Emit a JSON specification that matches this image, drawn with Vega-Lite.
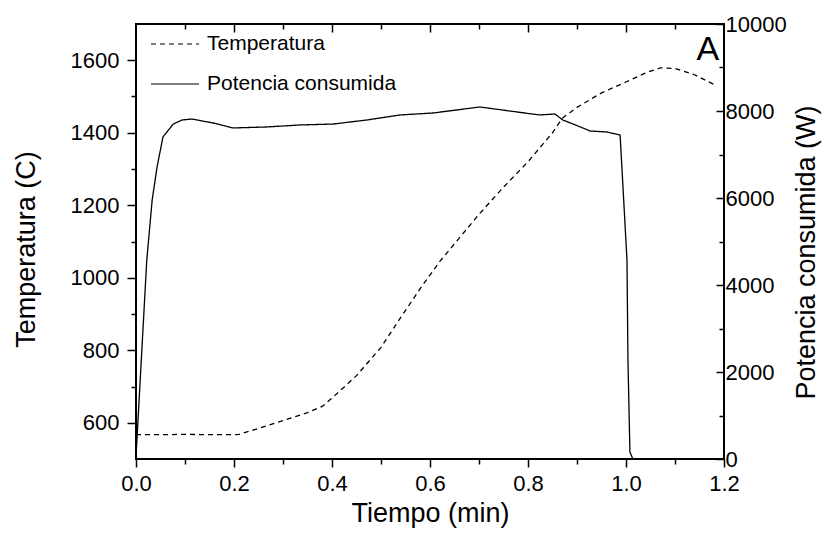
{
  "$schema": "https://vega.github.io/schema/vega-lite/v6.json",
  "width": 588,
  "height": 435,
  "autosize": {"type": "none"},
  "padding": {"left": 136, "top": 24, "right": 102, "bottom": 78},
  "background": "white",
  "config": {
    "view": {"stroke": "black", "strokeWidth": 2},
    "font": "Liberation Sans",
    "axis": {
      "domain": false,
      "grid": false,
      "tickColor": "black",
      "tickWidth": 1.5,
      "labelColor": "black",
      "titleColor": "black",
      "labelFont": "Liberation Sans",
      "titleFont": "Liberation Sans",
      "labelFontSize": 22,
      "titleFontSize": 27,
      "titleFontWeight": "normal"
    }
  },
  "datasets": {
    "temp": [
      {"t": 0.0, "temp": 567}, {"t": 0.05, "temp": 567}, {"t": 0.1, "temp": 568}, {"t": 0.15, "temp": 567},
      {"t": 0.2, "temp": 567}, {"t": 0.21, "temp": 568}, {"t": 0.25, "temp": 584}, {"t": 0.3, "temp": 606},
      {"t": 0.35, "temp": 628}, {"t": 0.38, "temp": 645}, {"t": 0.4, "temp": 668}, {"t": 0.45, "temp": 730},
      {"t": 0.5, "temp": 808}, {"t": 0.54, "temp": 890}, {"t": 0.58, "temp": 970}, {"t": 0.62, "temp": 1045},
      {"t": 0.66, "temp": 1110}, {"t": 0.7, "temp": 1175}, {"t": 0.75, "temp": 1250}, {"t": 0.8, "temp": 1320},
      {"t": 0.85, "temp": 1400}, {"t": 0.87, "temp": 1440}, {"t": 0.9, "temp": 1470}, {"t": 0.95, "temp": 1510},
      {"t": 1.0, "temp": 1540}, {"t": 1.04, "temp": 1565}, {"t": 1.07, "temp": 1579}, {"t": 1.1, "temp": 1577},
      {"t": 1.14, "temp": 1560}, {"t": 1.18, "temp": 1533}
    ],
    "power": [
      {"t": 0.0, "power": 50}, {"t": 0.022, "power": 4575}, {"t": 0.033, "power": 5954}, {"t": 0.043, "power": 6713},
      {"t": 0.055, "power": 7403}, {"t": 0.076, "power": 7700}, {"t": 0.094, "power": 7793}, {"t": 0.114, "power": 7816},
      {"t": 0.157, "power": 7725}, {"t": 0.198, "power": 7610}, {"t": 0.267, "power": 7633}, {"t": 0.335, "power": 7679},
      {"t": 0.402, "power": 7700}, {"t": 0.471, "power": 7793}, {"t": 0.539, "power": 7909}, {"t": 0.606, "power": 7954},
      {"t": 0.702, "power": 8092}, {"t": 0.778, "power": 7977}, {"t": 0.824, "power": 7909}, {"t": 0.855, "power": 7931},
      {"t": 0.871, "power": 7793}, {"t": 0.892, "power": 7701}, {"t": 0.927, "power": 7540}, {"t": 0.961, "power": 7517},
      {"t": 0.988, "power": 7448}, {"t": 1.002, "power": 4575}, {"t": 1.004, "power": 2276}, {"t": 1.008, "power": 161},
      {"t": 1.014, "power": 0}
    ],
    "annot": [{"label": "A"}]
  },
  "layer": [
    {
      "data": {"name": "temp"},
      "mark": {"type": "line", "color": "black", "strokeWidth": 1.3},
      "encoding": {
        "x": {
          "field": "t", "type": "quantitative",
          "scale": {"domain": [0, 1.2], "nice": false, "zero": false},
          "axis": {"orient": "bottom", "values": [0, 0.2, 0.4, 0.6, 0.8, 1.0, 1.2], "format": ".1f", "tickSize": 8, "labelPadding": 6, "labelFlush": false, "title": "Tiempo (min)", "titlePadding": 6}
        },
        "y": {
          "field": "temp", "type": "quantitative",
          "scale": {"domain": [500, 1700], "nice": false, "zero": false},
          "axis": {"orient": "left", "values": [600, 800, 1000, 1200, 1400, 1600], "format": "d", "tickSize": 9, "labelPadding": 8, "title": "Temperatura (C)", "titleAngle": 270, "titleBaseline": "top", "titleAlign": "center", "titleX": -123, "titleY": 225}
        },
        "strokeDash": {
          "datum": "Temperatura", "type": "nominal",
          "scale": {"domain": ["Temperatura", "Potencia consumida"], "range": [[5, 4], [1, 0]]},
          "legend": {
            "orient": "none", "legendX": 14, "legendY": 0, "title": null,
            "symbolType": "stroke", "symbolSize": 2304, "symbolStrokeWidth": 1.2, "symbolStrokeColor": "black",
            "labelFontSize": 21, "labelOffset": 7, "labelColor": "black", "labelFont": "Liberation Sans", "labelLimit": 400,
            "clipHeight": 40, "padding": 0, "rowPadding": 0
          }
        }
      }
    },
    {
      "data": {"name": "power"},
      "mark": {"type": "line", "color": "black", "strokeWidth": 1.3},
      "encoding": {
        "x": {
          "field": "t", "type": "quantitative",
          "scale": {"domain": [0, 1.2], "nice": false, "zero": false},
          "axis": {"orient": "top", "values": [0.2, 0.4, 0.6, 0.8, 1.0], "labels": false, "tickSize": -8, "title": null}
        },
        "y": {
          "field": "power", "type": "quantitative",
          "scale": {"domain": [0, 10000], "nice": false, "zero": false},
          "axis": {"orient": "right", "values": [0, 2000, 4000, 6000, 8000, 10000], "format": "d", "tickSize": -8, "labelPadding": 9, "title": "Potencia consumida (W)", "titleAngle": 270, "titleBaseline": "top", "titleAlign": "center", "titleX": 69, "titleY": 228}
        },
        "strokeDash": {"datum": "Potencia consumida", "type": "nominal"}
      }
    },
    {
      "data": {"name": "temp"},
      "mark": {"type": "point", "opacity": 0},
      "encoding": {
        "x": {
          "field": "t", "type": "quantitative",
          "scale": {"domain": [0, 1.2], "nice": false, "zero": false},
          "axis": {"orient": "bottom", "values": [0.1, 0.3, 0.5, 0.7, 0.9, 1.1], "labels": false, "tickSize": 5, "title": null}
        },
        "y": {
          "field": "temp", "type": "quantitative",
          "scale": {"domain": [500, 1700], "nice": false, "zero": false},
          "axis": {"orient": "left", "values": [700, 900, 1100, 1300, 1500], "labels": false, "tickSize": 5, "title": null}
        }
      }
    },
    {
      "data": {"name": "power"},
      "mark": {"type": "point", "opacity": 0},
      "encoding": {
        "x": {
          "field": "t", "type": "quantitative",
          "scale": {"domain": [0, 1.2], "nice": false, "zero": false},
          "axis": {"orient": "top", "values": [0.1, 0.3, 0.5, 0.7, 0.9, 1.1], "labels": false, "tickSize": -5, "title": null}
        },
        "y": {
          "field": "power", "type": "quantitative",
          "scale": {"domain": [0, 10000], "nice": false, "zero": false},
          "axis": {"orient": "right", "values": [1000, 3000, 5000, 7000, 9000], "labels": false, "tickSize": -5, "title": null}
        }
      }
    },
    {
      "data": {"name": "annot"},
      "mark": {"type": "text", "fontSize": 34, "align": "right", "baseline": "alphabetic", "color": "black", "font": "Liberation Sans"},
      "encoding": {
        "x": {"datum": 1.19, "type": "quantitative", "scale": {"domain": [0, 1.2], "nice": false, "zero": false}, "axis": null},
        "y": {"datum": 1600, "type": "quantitative", "scale": {"domain": [500, 1700], "nice": false, "zero": false}, "axis": null},
        "text": {"field": "label"}
      }
    }
  ],
  "resolve": {
    "scale": {"x": "independent", "y": "independent"},
    "axis": {"x": "independent", "y": "independent"}
  }
}
